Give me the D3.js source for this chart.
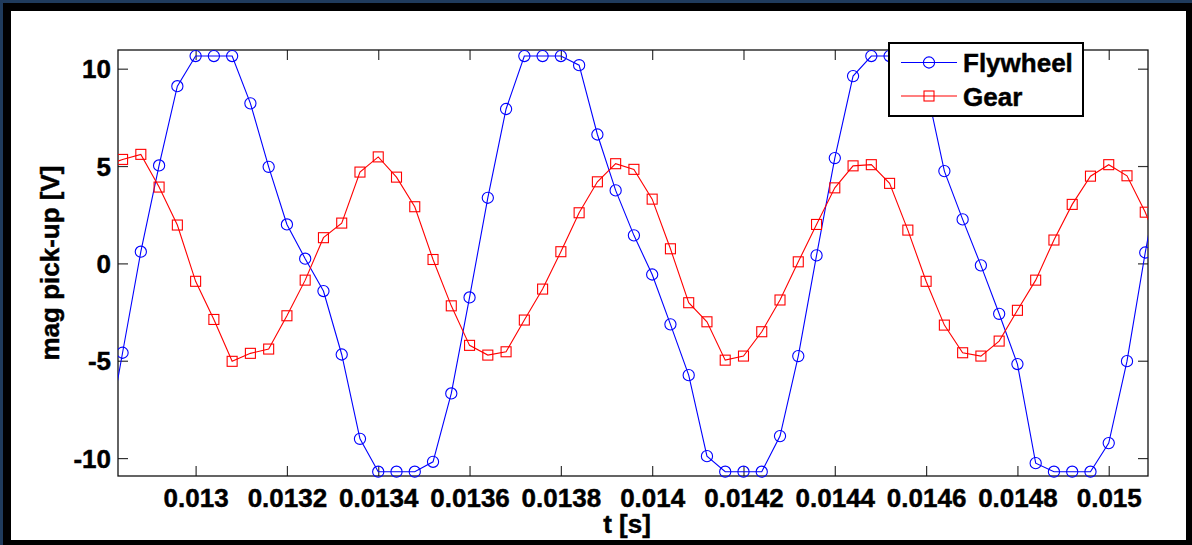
<!DOCTYPE html>
<html>
<head>
<meta charset="utf-8">
<script src="https://cdn.jsdelivr.net/npm/d3@7"></script>
<style>
  html, body { margin: 0; padding: 0; background: #1f3b5c; }
  svg { display: block; }
  text { font-family: "Liberation Sans", Arial, Helvetica, sans-serif; font-weight: bold; fill: #000; stroke: #000; stroke-width: 0.45px; }
</style>
</head>
<body>
<svg id="chart" width="1192" height="545"></svg>
<script>
// ---- data ----
const times = [
  0.01280, 0.01284, 0.01288, 0.01292, 0.01296, 0.01300, 0.01304, 0.01308, 0.01312, 0.01316,
  0.01320, 0.01324, 0.01328, 0.01332, 0.01336, 0.01340, 0.01344, 0.01348, 0.01352, 0.01356,
  0.01360, 0.01364, 0.01368, 0.01372, 0.01376, 0.01380, 0.01384, 0.01388, 0.01392, 0.01396,
  0.01400, 0.01404, 0.01408, 0.01412, 0.01416, 0.01420, 0.01424, 0.01428, 0.01432, 0.01436,
  0.01440, 0.01444, 0.01448, 0.01452, 0.01456, 0.01460, 0.01464, 0.01468, 0.01472, 0.01476,
  0.01480, 0.01484, 0.01488, 0.01492, 0.01496, 0.01500, 0.01504, 0.01508, 0.01512
];
const flywheel = [
  -9.8, -4.59, 0.6, 5.03, 9.1, 10.65, 10.65, 10.65, 8.22, 4.96,
  2.0, 0.24, -1.42, -4.68, -9.01, -10.7, -10.7, -10.7, -10.19, -6.68,
  -1.75, 3.37, 7.93, 10.65, 10.65, 10.65, 10.18, 6.62, 3.75, 1.44,
  -0.57, -3.13, -5.74, -9.9, -10.7, -10.7, -10.7, -8.87, -4.76, 0.41,
  5.41, 9.62, 10.65, 10.65, 10.65, 9.1, 4.74, 2.26, -0.1, -2.59,
  -5.17, -10.26, -10.7, -10.7, -10.7, -9.23, -5.02, 0.56, 5.6
];
const gear = [
  5.0, 5.34, 5.6, 3.92, 1.97, -0.92, -2.88, -5.03, -4.62, -4.40,
  -2.69, -0.86, 1.32, 2.07, 4.69, 5.47, 4.43, 2.91, 0.2, -2.18,
  -4.21, -4.71, -4.54, -2.91, -1.32, 0.6, 2.6, 4.19, 5.12, 4.83,
  3.30, 0.75, -2.02, -3.0, -4.97, -4.76, -3.51, -1.88, 0.08, 2.0,
  3.88, 5.01, 5.07, 4.11, 1.71, -0.92, -3.17, -4.59, -4.76, -3.99,
  -2.41, -0.86, 1.2, 3.03, 4.48, 5.07, 4.5, 2.63, 0.3
];
const xTickValues = [0.0130, 0.0132, 0.0134, 0.0136, 0.0138, 0.0140, 0.0142, 0.0144, 0.0146, 0.0148, 0.0150];
const xTickLabels = ["0.013", "0.0132", "0.0134", "0.0136", "0.0138", "0.014", "0.0142", "0.0144", "0.0146", "0.0148", "0.015"];
const yTickValues = [-10, -5, 0, 5, 10];
const yTickLabels = ["-10", "-5", "0", "5", "10"];
const seriesNames = ["Flywheel", "Gear"];
const xDomain = [0.01283, 0.015086];
const yDomain = [-10.92, 10.96];

// ---- layout ----
const W = 1192, H = 545;
const plot = { left: 118, right: 1148, top: 50, bottom: 476 };
const svg = d3.select("#chart");

// frame
svg.append("rect").attr("x", 0).attr("y", 0).attr("width", W).attr("height", H).attr("fill", "#1f3b5c");
svg.append("rect").attr("x", 3).attr("y", 3).attr("width", W - 3).attr("height", H - 3).attr("fill", "#000");
svg.append("rect").attr("x", 11).attr("y", 11).attr("width", 1175).attr("height", 529).attr("fill", "#fff");

const x = d3.scaleLinear().domain(xDomain).range([plot.left, plot.right]);
const y = d3.scaleLinear().domain(yDomain).range([plot.bottom, plot.top]);

svg.append("defs").append("clipPath").attr("id", "clipLine")
  .append("rect").attr("x", plot.left).attr("y", plot.top - 8)
  .attr("width", plot.right - plot.left).attr("height", plot.bottom - plot.top + 16);

const fs = 26;
const tickColor = "#333";
const tickLen = 10;

// axes (ticks inside)
const gBottom = svg.append("g").attr("transform", `translate(0,${plot.bottom})`)
  .call(d3.axisBottom(x).tickValues(xTickValues).tickSize(-tickLen).tickPadding(0)
    .tickFormat((d, i) => xTickLabels[i]));
const gTop = svg.append("g").attr("transform", `translate(0,${plot.top})`)
  .call(d3.axisTop(x).tickValues(xTickValues).tickSize(-tickLen).tickFormat(""));
const gLeft = svg.append("g").attr("transform", `translate(${plot.left},0)`)
  .call(d3.axisLeft(y).tickValues(yTickValues).tickSize(-tickLen).tickPadding(0)
    .tickFormat((d, i) => yTickLabels[i]));
const gRight = svg.append("g").attr("transform", `translate(${plot.right},0)`)
  .call(d3.axisRight(y).tickValues(yTickValues).tickSize(-tickLen).tickFormat(""));

[gBottom, gTop, gLeft, gRight].forEach(g => {
  g.select(".domain").remove();
  g.selectAll(".tick line").attr("stroke", tickColor).attr("stroke-width", 1.2);
});
gBottom.selectAll(".tick text")
  .attr("font-size", fs).attr("font-family", "Liberation Sans, Arial, sans-serif")
  .attr("font-weight", "bold").attr("fill", "#000")
  .attr("dy", null).attr("y", 31).attr("dominant-baseline", "auto");
gLeft.selectAll(".tick text")
  .attr("font-size", fs).attr("font-family", "Liberation Sans, Arial, sans-serif")
  .attr("font-weight", "bold").attr("fill", "#000")
  .attr("x", -7).attr("dy", "0.35em");

// box
svg.append("rect").attr("x", plot.left).attr("y", plot.top)
  .attr("width", plot.right - plot.left).attr("height", plot.bottom - plot.top)
  .attr("fill", "none").attr("stroke", "#111").attr("stroke-width", 1.3);

// series
const series = [
  { name: seriesNames[0], values: flywheel, color: "#0000ff", marker: "circle" },
  { name: seriesNames[1], values: gear, color: "#ff0000", marker: "square" }
];
const line = d3.line().x((d) => x(d[0])).y((d) => y(d[1]));
const inDomain = (t) => t >= xDomain[0] && t <= xDomain[1];

series.forEach(s => {
  const pts = times.map((t, i) => [t, s.values[i]]);
  const g = svg.append("g").attr("clip-path", "url(#clipLine)");
  g.append("path").datum(pts).attr("d", line)
    .attr("fill", "none").attr("stroke", s.color).attr("stroke-width", 1.1);
  const mpts = pts.filter(p => inDomain(p[0]));
  if (s.marker === "circle") {
    g.selectAll("circle.m").data(mpts).join("circle").attr("class", "m")
      .attr("cx", d => x(d[0])).attr("cy", d => y(d[1])).attr("r", 5.6)
      .attr("fill", "none").attr("stroke", s.color).attr("stroke-width", 1.1);
  } else {
    g.selectAll("rect.m").data(mpts).join("rect").attr("class", "m")
      .attr("x", d => x(d[0]) - 5).attr("y", d => y(d[1]) - 5)
      .attr("width", 10).attr("height", 10)
      .attr("fill", "none").attr("stroke", s.color).attr("stroke-width", 1.1);
  }
});

// axis labels
svg.append("text").attr("x", 627).attr("y", 533).attr("text-anchor", "middle")
  .attr("font-size", fs).text("t [s]");
svg.append("text").attr("transform", `translate(59,${(plot.top + plot.bottom) / 2}) rotate(-90)`)
  .attr("text-anchor", "middle").attr("font-size", fs).text("mag pick-up [V]");

// legend
const lg = svg.append("g");
lg.append("rect").attr("x", 889).attr("y", 43).attr("width", 194).attr("height", 73)
  .attr("fill", "#fff").attr("stroke", "#000").attr("stroke-width", 2);
series.forEach((s, i) => {
  const ly = 62.5 + i * 33.5;
  lg.append("line").attr("x1", 901).attr("x2", 957).attr("y1", ly).attr("y2", ly)
    .attr("stroke", s.color).attr("stroke-width", 1.1);
  if (s.marker === "circle") {
    lg.append("circle").attr("cx", 929).attr("cy", ly).attr("r", 5.6)
      .attr("fill", "none").attr("stroke", s.color).attr("stroke-width", 1.1);
  } else {
    lg.append("rect").attr("x", 924).attr("y", ly - 5).attr("width", 10).attr("height", 10)
      .attr("fill", "none").attr("stroke", s.color).attr("stroke-width", 1.1);
  }
  lg.append("text").attr("x", 963).attr("y", ly + 9.5).attr("font-size", fs).text(s.name);
});
</script>
</body>
</html>
